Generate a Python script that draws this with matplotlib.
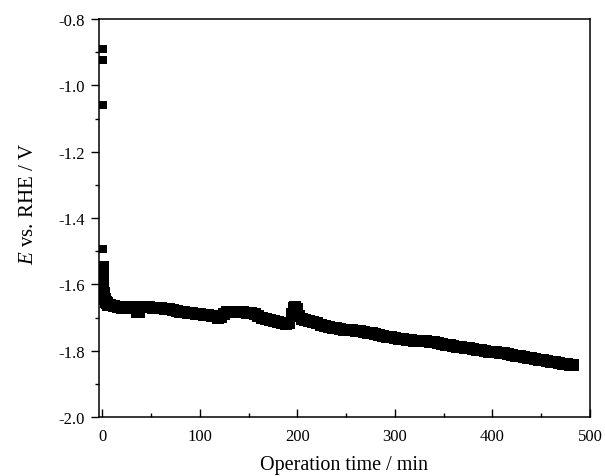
import matplotlib
matplotlib.use("Agg")
import matplotlib.pyplot as plt
from matplotlib.ticker import MultipleLocator

plt.rcParams['font.family'] = ['Liberation Serif', 'DejaVu Serif']
plt.rcParams['mathtext.fontset'] = 'custom'
plt.rcParams['mathtext.rm'] = 'Liberation Serif'
plt.rcParams['mathtext.it'] = 'Liberation Serif:italic'
plt.rcParams['axes.unicode_minus'] = False

# Operation time (min) and potential (V vs. RHE)
time_min = [0.5, 0.5, 0.5, 0.5,
            0.3, 0.5, 0.7, 0.9, 1.1, 1.4, 1.8, 2.5, 3.5, 4.5, 6,
            8, 12, 16, 20, 24, 28, 32, 35, 38, 41, 44, 48, 52, 56, 60, 64, 68, 72, 76, 80,
            84, 88, 92, 96, 100, 104, 108, 112, 116, 119, 122, 125, 128, 132, 136, 140,
            144, 148, 152, 156, 160, 164, 168, 172, 176, 180, 184, 188, 191, 194, 196, 198,
            200, 202, 205, 208, 212, 216, 220, 224, 228, 232, 236, 240, 244, 248, 252, 256,
            260, 264, 268, 272, 276, 280, 284, 288, 292, 296, 300, 304, 308, 312, 316, 320,
            324, 328, 332, 336, 340, 344, 348, 352, 356, 360, 364, 368, 372, 376, 380, 384,
            388, 392, 396, 400, 404, 408, 412, 416, 420, 424, 428, 432, 436, 440, 444, 448,
            452, 456, 460, 464, 468, 472, 476, 480, 483]
potential = [-0.890, -0.925, -1.058, -1.492,
             -1.548, -1.565, -1.582, -1.598, -1.612, -1.625, -1.636, -1.645, -1.652, -1.657, -1.661,
             -1.663, -1.666, -1.669, -1.670, -1.669, -1.668, -1.672, -1.684, -1.682, -1.669, -1.668,
             -1.669, -1.670, -1.671, -1.672, -1.673, -1.674, -1.676, -1.679, -1.682,
             -1.684, -1.685, -1.687, -1.689, -1.690, -1.691, -1.692, -1.694, -1.696, -1.701, -1.698,
             -1.688, -1.683, -1.682, -1.683, -1.684,
             -1.684, -1.685, -1.686, -1.689, -1.695, -1.700, -1.704, -1.707, -1.710, -1.713, -1.716,
             -1.719, -1.716, -1.690, -1.672, -1.667,
             -1.675, -1.695, -1.705, -1.708, -1.711, -1.715, -1.718, -1.722, -1.726, -1.729, -1.731,
             -1.733, -1.735, -1.737, -1.738, -1.739,
             -1.741, -1.742, -1.744, -1.746, -1.748, -1.750, -1.752, -1.755, -1.758, -1.760, -1.763,
             -1.765, -1.766, -1.768, -1.769, -1.770,
             -1.771, -1.772, -1.772, -1.773, -1.775, -1.777, -1.779, -1.782, -1.784, -1.786, -1.788,
             -1.790, -1.791, -1.793, -1.795, -1.797,
             -1.799, -1.801, -1.803, -1.804, -1.805, -1.806, -1.808, -1.810, -1.813, -1.815, -1.817,
             -1.819, -1.821, -1.823, -1.825, -1.827,
             -1.829, -1.831, -1.833, -1.835, -1.837, -1.839, -1.841, -1.842, -1.843]

n_isolated = 4  # first few isolated readings at start-up

fig = plt.figure(figsize=(6.05, 4.77), dpi=100)
ax = fig.add_axes([0.1636, 0.1237, 0.9752 - 0.1636, 0.958 - 0.1237])

ax.plot(time_min[:n_isolated], potential[:n_isolated], linestyle='none', marker='s',
        markersize=6.3, color='black', markeredgewidth=0)
ax.plot(time_min[n_isolated:], potential[n_isolated:], linestyle='none', marker='s',
        markersize=8.3, color='black', markeredgewidth=0)

ax.set_xlim(-3.5, 500)
ax.set_ylim(-2.0, -0.8)
ax.xaxis.set_major_locator(MultipleLocator(100))
ax.xaxis.set_minor_locator(MultipleLocator(50))
ax.yaxis.set_major_locator(MultipleLocator(0.2))
ax.yaxis.set_minor_locator(MultipleLocator(0.1))
ax.yaxis.set_major_formatter(matplotlib.ticker.FormatStrFormatter('%.1f'))

for s in ax.spines.values():
    s.set_linewidth(1.1)

ax.tick_params(axis='x', which='major', direction='in', length=5.5, width=1.0,
               labelsize=12, pad=8)
ax.tick_params(axis='x', which='minor', direction='in', length=3, width=1.0)
ax.tick_params(axis='y', which='major', direction='out', length=6, width=1.0,
               labelsize=12, pad=4)
ax.tick_params(axis='y', which='minor', direction='out', length=3, width=1.0)

ax.set_xlabel('Operation time / min', fontsize=14.5, labelpad=8)
ax.set_ylabel('$E$ vs. RHE / V', fontsize=15)
ax.yaxis.set_label_coords(-0.125, 0.538)

fig.savefig('out.png', dpi=100)
